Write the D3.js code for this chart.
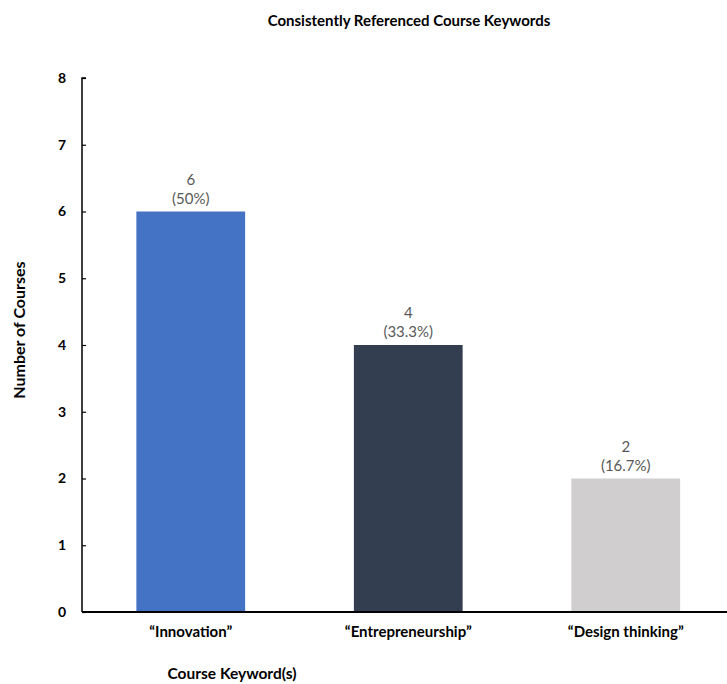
<!DOCTYPE html>
<html>
<head>
<meta charset="utf-8">
<script src="https://cdn.jsdelivr.net/npm/d3@7"></script>
<style>
  body { margin: 0; background: #fff; }
  svg { display: block; }
  text { font-family: Lato, "Open Sans", sans-serif; }
</style>
</head>
<body>
<svg id="chart" width="727" height="684"></svg>
<script>
// Keyword counts across courses
const categories = ["\u201CInnovation\u201D", "\u201CEntrepreneurship\u201D", "\u201CDesign thinking\u201D"];
const counts = [6, 4, 2];
const shares = ["50%", "33.3%", "16.7%"];
const barColors = ["#4472C4", "#333F50", "#D0CECE"];
const yTicks = [0, 1, 2, 3, 4, 5, 6, 7, 8];

const svg = d3.select("#chart");
const plotLeft = 82, plotBottom = 612, plotTop = 78;

const x = d3.scaleBand().domain(categories).range([plotLeft, 734.5])
  .paddingInner(0.5).paddingOuter(0.25);
const y = d3.scaleLinear().domain([0, 8]).range([plotBottom, plotTop]);

// Bars
svg.selectAll("rect.bar").data(categories).join("rect")
  .attr("class", "bar")
  .attr("x", d => x(d))
  .attr("width", x.bandwidth())
  .attr("y", (d, i) => y(counts[i]))
  .attr("height", (d, i) => y(0) - y(counts[i]))
  .attr("fill", (d, i) => barColors[i]);

// Value labels
const lbl = svg.selectAll("g.lbl").data(categories).join("g")
  .attr("class", "lbl")
  .attr("transform", (d, i) => `translate(${x(d) + x.bandwidth() / 2},${y(counts[i])})`);
lbl.append("text").attr("y", -27).attr("text-anchor", "middle")
  .attr("font-size", 15).attr("fill", "#595959").text((d, i) => counts[i]);
lbl.append("text").attr("y", -8).attr("text-anchor", "middle")
  .attr("font-size", 15).attr("fill", "#595959").text((d, i) => `(${shares[i]})`);

// Y axis
const yAxis = svg.append("g").attr("transform", `translate(${plotLeft},0)`)
  .call(d3.axisRight(y).tickValues(yTicks).tickSize(4).tickFormat(d3.format("d")));
yAxis.select(".domain").attr("stroke", "#000").attr("stroke-width", 1.5)
  .attr("d", `M4,${plotTop}H0V${plotBottom}`);
yAxis.selectAll(".tick line").attr("stroke", "#000").attr("stroke-width", 1.2);
yAxis.selectAll(".tick text").attr("x", -16).attr("text-anchor", "end")
  .attr("font-size", 14).attr("font-weight", "bold").attr("fill", "#000");

// X axis
const xAxis = svg.append("g").attr("transform", `translate(0,${plotBottom})`)
  .call(d3.axisBottom(x).tickSize(0).tickPadding(14));
xAxis.select(".domain").attr("stroke", "#000").attr("stroke-width", 2)
  .attr("d", `M${plotLeft},0H727`);
xAxis.selectAll(".tick text").attr("font-size", 15).attr("font-weight", "bold")
  .attr("fill", "#000");

// Titles
svg.append("text").attr("x", 409).attr("y", 26).attr("text-anchor", "middle")
  .attr("font-size", 15).attr("font-weight", "bold").text("Consistently Referenced Course Keywords");
svg.append("text").attr("x", 232).attr("y", 679).attr("text-anchor", "middle")
  .attr("font-size", 15.5).attr("font-weight", "bold").text("Course Keyword(s)");
svg.append("text").attr("transform", "translate(25,330) rotate(-90)").attr("text-anchor", "middle")
  .attr("font-size", 16).attr("font-weight", "bold").text("Number of Courses");
</script>
</body>
</html>
